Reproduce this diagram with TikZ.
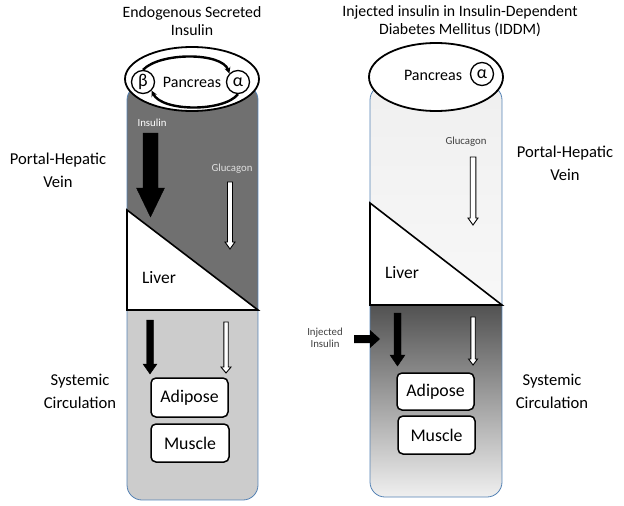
\documentclass[tikz,border=0pt]{standalone}
\usepackage{fontspec}
\setmainfont{Carlito}
\usetikzlibrary{arrows.meta}

\definecolor{portaldark}{RGB}{112,112,112}
\definecolor{systemlight}{RGB}{204,204,204}
\definecolor{veinedge}{RGB}{84,130,180}

% down pointing block arrow: x, top, tip, shaft half width, head half width, head length
\newcommand{\blockdown}[7][]{%
  \filldraw[#1] (#2-#5,#3) -- (#2+#5,#3) -- (#2+#5,#4-#7) -- (#2+#6,#4-#7)
    -- (#2,#4) -- (#2-#6,#4-#7) -- (#2-#5,#4-#7) -- cycle;}

\begin{document}
\begin{tikzpicture}[x=1pt,y=-1pt,
  title/.style={align=center,font=\fontsize{15.8}{18}\selectfont},
  region/.style={align=center,font=\fontsize{16.6}{23}\selectfont},
  organ/.style={draw,line width=1.5pt,rounded corners=5pt,fill=white,
    font=\fontsize{17.8}{18}\selectfont},
  greek/.style={circle,draw,line width=1.3pt,minimum size=23pt,inner sep=0pt,
    font=\fontsize{18}{18}\selectfont},
  small/.style={font=\fontsize{10.8}{12}\selectfont,align=center}]

\useasboundingbox (0,0) rectangle (624,506);

%% left tube: endogenous insulin
\begin{scope}
\clip[rounded corners=15pt] (127,85) rectangle (258,500);
\fill[portaldark] (127,85) rectangle (258,310);
\fill[systemlight] (127,310) rectangle (258,500);
\end{scope}
\draw[veinedge,line width=0.8pt,rounded corners=15pt] (127,85) rectangle (258,500);
\draw[line width=1.6pt,fill=white] (127,210) -- (127,310) -- (258,310) -- cycle;

%% right tube: IDDM
\begin{scope}
\clip[rounded corners=15pt] (370,85) rectangle (502,497);
\shade[top color=gray!12,bottom color=gray!6] (370,85) rectangle (502,305);
\shade[top color=black!68,bottom color=gray!12] (370,305) rectangle (502,497);
\end{scope}
\draw[veinedge,line width=0.8pt,rounded corners=15pt] (370,85) rectangle (502,497);
\draw[line width=1.6pt,fill=white] (370,203) -- (370,305) -- (502,305) -- cycle;

%% pancreas
\draw[line width=1.8pt,fill=white] (192,79) ellipse [x radius=67,y radius=32];
\node (pancL) at (192,82) {\fontsize{16}{18}\selectfont Pancreas};
\node[greek] (betaL) at (143,82) {β};
\node[greek] (alphaL) at (238,82) {α};
\draw[line width=2.4pt,-{Stealth[length=6pt,width=6pt]}]
  (betaL.north) .. controls (160,52) and (222,52) .. (alphaL.north west);
\draw[line width=2.4pt,-{Stealth[length=6pt,width=6pt]}]
  (alphaL.south) .. controls (224,112) and (162,112) .. (betaL.south east);

\draw[line width=1.8pt,fill=white] (436,77) ellipse [x radius=67,y radius=34];
\node (pancR) at (433,75) {\fontsize{16}{18}\selectfont Pancreas};
\node[greek] (alphaR) at (482,74) {α};

%% titles
\node[title] (endotitle) at (192,21) {Endogenous Secreted\\Insulin};
\node[title] (iddmtitle) at (460,21) {Injected insulin in Insulin-Dependent\\Diabetes Mellitus (IDDM)};

%% side labels
\node[region] (portalL) at (58,170) {Portal-Hepatic\\Vein};
\node[region] (systemicL) at (80,391) {Systemic\\Circulation};
\node[region] (portalR) at (565,163) {Portal-Hepatic\\Vein};
\node[region] (systemicR) at (552,391) {Systemic\\Circulation};

%% liver
\node (liverL) at (159,278) {\fontsize{17.5}{18}\selectfont Liver};
\node (liverR) at (402,273) {\fontsize{17.5}{18}\selectfont Liver};

%% hormones in portal vein
\node[small,white] (insL) at (152,123) {Insulin};
\node[small,gray!25] (glucL) at (232,169) {Glucagon};
\node[small,black!75] (glucR) at (466,142) {Glucagon};
\blockdown[fill=black,draw=black]{150.5}{133}{217}{7.5}{14}{29}
\blockdown[fill=white,draw=black,line width=0.9pt]{230}{182}{249}{2.5}{5}{7}
\blockdown[fill=white,draw=black,line width=0.9pt]{473}{157}{225}{2.8}{5}{7}

%% hormones in systemic circulation
\blockdown[fill=black,draw=black]{150}{320}{374}{3.5}{7}{10}
\blockdown[fill=white,draw=black,line width=0.9pt]{226}{322}{373}{2.2}{5}{6}
\blockdown[fill=black,draw=black]{397.5}{313}{366}{3.5}{7.5}{11}
\blockdown[fill=white,draw=black,line width=0.9pt]{473}{317}{365}{2.2}{4.5}{6}

\node[small,black!75] (injR) at (325,338) {Injected\\Insulin};
\fill[black] (354,335) -- (370,335) -- (370,330) -- (380,339) -- (370,348) -- (370,343) -- (354,343) -- cycle;

%% target tissues
\node[organ,minimum width=77pt,minimum height=39pt] (adipL) at (189.5,397.5) {Adipose};
\node[organ,minimum width=78pt,minimum height=38pt] (muscL) at (190,443) {Muscle};
\node[organ,minimum width=77pt,minimum height=37pt] (adipR) at (435.5,391.5) {Adipose};
\node[organ,minimum width=77pt,minimum height=38pt] (muscR) at (436.5,435) {Muscle};
\end{tikzpicture}
\end{document}
